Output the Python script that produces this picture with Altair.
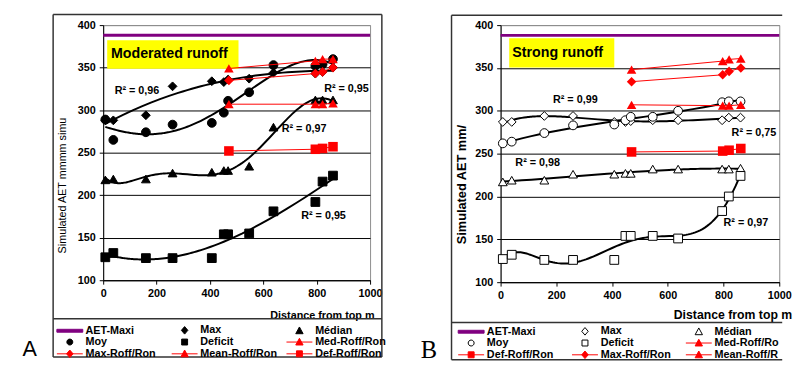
import altair as alt
import pandas as pd

FONT = "Liberation Sans"
PURPLE = "#800080"
RED = "#FF0000"

x_domain = [0, 1000]
x_ticks = [0, 200, 400, 600, 800, 1000]
y_domain = [100, 400]
y_ticks = [100, 150, 200, 250, 300, 350, 400]
aet_maxi = 388

# ---------------- Panel A : Moderated runoff ----------------
a_x = [8, 38, 160, 260, 407, 452, 468, 547, 638, 795, 822, 861]
a_max = [288, 288, 294, 328, 334, 333, 336, 337, 344, 343, 345, 350]
a_moy = [289, 265, 274, 283, 285, 297, 311, 321, 353, 352, 354, 360]
a_med = [218, 219, 219, 226, 227, 229, 229, 234, 280, 312, 312, 312]
a_def = [127, 132, 126, 126, 126, 154, 154, 155, 181, 192, 216, 223]
a_roff_x = [471, 795, 822, 861]
a_mean_roff = [349, 358, 360, 360]
a_max_roff = [335, 343, 345, 350]
a_med_roff = [307, 307, 307, 308]
a_def_roff = [252, 254, 255, 257]
a_r2_text = ["R² = 0,96", "R² = 0,95", "R² = 0,97", "R² = 0,95"]
a_r2_x = [43, 828, 669, 742]
a_r2_y = [323, 325, 278, 175]

# ---------------- Panel B : Strong runoff ----------------
b_x = [8, 40, 157, 260, 408, 448, 467, 546, 637, 795, 819, 861]
b_max = [287, 287, 294, 294, 287, 287, 288, 289, 289, 289, 292, 292]
b_moy = [262, 264, 274, 283, 284, 289, 293, 293, 300, 310, 311, 311]
b_med = [217, 219, 219, 226, 226, 227, 227, 232, 232, 232, 232, 233]
b_def = [127, 132, 126, 126, 126, 154, 154, 154, 151, 183, 200, 224]
b_roff_x = [470, 797, 820, 862]
b_mean_roff = [348, 358, 360, 361]
b_max_roff = [334, 342, 346, 350]
b_med_roff = [307, 306, 306, 307]
b_def_roff = [252, 253, 254, 256]
b_r2_text = ["R² = 0,99", "R² = 0,75", "R² = 0,98", "R² = 0,97"]
b_r2_x = [188, 829, 53, 800]
b_r2_y = [312, 274, 239.5, 169]

# legend symbol paths (line + marker)
P_LINE = "M-2.4,0H2.4"
P_TRI = "M0,-0.7L0.68,0.55L-0.68,0.55Z"
P_DIA = "M0,-0.7L0.6,0L0,0.7L-0.6,0Z"
P_SQ = "M-0.55,-0.55H0.55V0.55H-0.55Z"
P_CIR = "M-0.55,0A0.55,0.55,0,1,0,0.55,0A0.55,0.55,0,1,0,-0.55,0Z"
P_BAR = "M-2.4,-0.27H2.4V0.27H-2.4Z"


def long_df(xs, cols):
    rows = []
    for name, vals in cols:
        for x, y in zip(xs, vals):
            rows.append({"series": name, "x": x, "y": y})
    return pd.DataFrame(rows)


def build(P):
    W, H = P["W"], P["H"]
    X = alt.X("x:Q", scale=alt.Scale(domain=x_domain, nice=False, zero=False),
              axis=alt.Axis(values=x_ticks, format="d", grid=False, title="Distance from top m",
                            titleFont=FONT, titleFontSize=P["xt_fs"], titleFontWeight="bold",
                            titleColor="black", titleAlign=P["xt_align"], titleX=P["xt_x"],
                            titleY=P["xt_y"], titleBaseline="middle",
                            labelFont=FONT, labelFontSize=11, labelFontWeight="bold",
                            labelColor="black", labelPadding=4, tickSize=4, tickColor="black",
                            domainColor="black", labelFlush=False))
    Y = alt.Y("y:Q", scale=alt.Scale(domain=y_domain, nice=False, zero=False),
              axis=alt.Axis(values=y_ticks, format="d", grid=True,
                            gridColor={"condition": {"test": "datum.value >= 400", "value": "#8c8c8c"},
                                       "value": "black"},
                            title=P["yt"], titleFont=FONT, titleFontSize=P["yt_fs"],
                            titleFontWeight=P["yt_fw"], titleColor="black", titleAngle=270,
                            titleAlign="center", titleBaseline="middle",
                            titleX=P["yt_x"], titleY=P["yt_y"],
                            labelFont=FONT, labelFontSize=11, labelFontWeight="bold",
                            labelColor="black", labelPadding=4, tickSize=4, tickColor="black",
                            domainColor="black"))

    pts = long_df(P["x"], P["black"])
    roff = long_df(P["roff_x"], P["red"])
    layers = []

    # yellow title box
    box = pd.DataFrame([{"x": P["box"][0], "x2": P["box"][1], "y": P["box"][2], "y2": P["box"][3]}])
    layers.append(alt.Chart(box).mark_rect(color="#FFFF00").encode(
        x=X, x2="x2:Q", y=Y, y2="y2:Q"))
    btxt = pd.DataFrame([{"x": P["box_tx"], "y": (P["box"][2] + P["box"][3]) / 2, "t": P["label"]}])
    layers.append(alt.Chart(btxt).mark_text(align="left", baseline="middle", font=FONT,
                                            fontSize=14.5, fontWeight="bold", color="black").encode(
        x=X, y=Y, text="t:N"))

    # AET-Maxi
    aet = pd.DataFrame({"x": x_domain, "y": [aet_maxi, aet_maxi]})
    layers.append(alt.Chart(aet).mark_line(color=PURPLE, strokeWidth=3).encode(x=X, y=Y))

    # trend lines
    for name, order in P["orders"]:
        layers.append(alt.Chart(pts).transform_filter(alt.datum.series == name)
                      .transform_regression("x", "y", method="poly", order=order)
                      .mark_line(color="black", strokeWidth=2).encode(x=X, y=Y))

    # black series points
    for name, shape in P["shapes"]:
        layers.append(alt.Chart(pts).transform_filter(alt.datum.series == name)
                      .mark_point(shape=shape, size=P["msize"], filled=P["filled"],
                                  fill="black" if P["filled"] else "white",
                                  stroke="black", strokeWidth=1, opacity=1)
                      .encode(x=X, y=Y))

    # red runoff series
    for name, shape in P["red_shapes"]:
        base = alt.Chart(roff).transform_filter(alt.datum.series == name)
        layers.append(base.mark_line(color=RED, strokeWidth=1).encode(x=X, y=Y))
        layers.append(base.mark_point(shape=shape, size=95, filled=True, color=RED, opacity=1)
                      .encode(x=X, y=Y))

    # R2 annotations
    r2 = pd.DataFrame({"x": P["r2_x"], "y": P["r2_y"], "t": P["r2_text"]})
    layers.append(alt.Chart(r2).mark_text(align="left", baseline="middle", font=FONT,
                                          fontSize=11, fontWeight="bold", color="black").encode(
        x=X, y=Y, text="t:N"))

    # frame and legend separator (decoration)
    one = pd.DataFrame([{"k": 0}])
    fl, fr, ft, fb, sep = P["frame"]
    for (x1, x2, y1, y2) in [(fl, fl, ft, fb), (fl, fr, ft, ft), (fl, fr, fb, fb), (fl, fr, sep, sep)] + P["extra_edges"]:
        layers.append(alt.Chart(one).mark_rule(color="#333333", strokeWidth=1.5).encode(
            x=alt.value(x1), x2=alt.value(x2), y=alt.value(y1), y2=alt.value(y2)))
    layers.append(alt.Chart(one).mark_text(text=P["letter"], font=P["letter_font"],
                                           fontSize=P["letter_fs"], align="center",
                                           baseline="alphabetic", color="black").encode(
        x=alt.value(P["letter_xy"][0]), y=alt.value(P["letter_xy"][1])))

    # legend driver
    names = [e[0] for e in P["legend"]]
    leg_kw = dict(title=None, orient="none", legendX=P["leg_xy"][0], legendY=P["leg_xy"][1],
                  columns=3, direction="horizontal", symbolSize=121, symbolStrokeWidth=1,
                  symbolOpacity=1, labelFont=FONT, labelFontSize=P["leg_fs"],
                  labelFontWeight="bold", labelColor="black", labelOffset=10,
                  columnPadding=P["colpad"], rowPadding=P["rowpad"], gridAlign="all",
                  padding=0, labelLimit=300)
    if P.get("leg_expr"):
        leg_kw["labelExpr"] = P["leg_expr"]
    leg = alt.Legend(**leg_kw)
    legdf = pd.DataFrame({"series": names})
    layers.append(alt.Chart(legdf).mark_point(opacity=0).encode(
        shape=alt.Shape("series:N", scale=alt.Scale(domain=names, range=[e[1] for e in P["legend"]]), legend=leg),
        fill=alt.Fill("series:N", scale=alt.Scale(domain=names, range=[e[2] for e in P["legend"]]), legend=leg),
        stroke=alt.Stroke("series:N", scale=alt.Scale(domain=names, range=[e[3] for e in P["legend"]]), legend=leg),
    ))

    return alt.layer(*layers).properties(width=W, height=H)


A = dict(
    W=272, H=260, x=a_x,
    black=[("Max", a_max), ("Moy", a_moy), ("Médian", a_med), ("Deficit", a_def)],
    roff_x=a_roff_x,
    red=[("Mean-Roff/Ron", a_mean_roff), ("Max-Roff/Ron", a_max_roff),
         ("Med-Roff/Ron", a_med_roff), ("Def-Roff/Ron", a_def_roff)],
    orders=[("Max", 3), ("Moy", 4), ("Médian", 6), ("Deficit", 3)],
    shapes=[("Max", "diamond"), ("Moy", "circle"), ("Médian", "triangle-up"), ("Deficit", "square")],
    red_shapes=[("Mean-Roff/Ron", "triangle-up"), ("Max-Roff/Ron", "diamond"),
                ("Med-Roff/Ron", "triangle-up"), ("Def-Roff/Ron", "square")],
    msize=80, filled=True,
    box=(15, 507, 382.3, 348.8), box_tx=29, label="Moderated runoff",
    r2_x=a_r2_x, r2_y=a_r2_y, r2_text=a_r2_text,
    xt_fs=11, xt_align="right", xt_x=276, xt_y=36,
    yt="Simulated AET mmmm simu", yt_fs=11, yt_fw="normal", yt_x=-41, yt_y=163,
    frame=(-51, 284, -10.7, 338.3, 299.3), extra_edges=[(284, 284, -10.7, 338.3)],
    letter="A", letter_font="Liberation Sans", letter_fs=22, letter_xy=(-75, 337),
    legend=[("AET-Maxi", P_BAR, PURPLE, PURPLE), ("Max", P_DIA, "black", "black"),
            ("Médian", P_TRI, "black", "black"), ("Moy", P_CIR, "black", "black"),
            ("Deficit", P_SQ, "black", "black"), ("Med-Roff/Ron", P_LINE + P_TRI, RED, RED),
            ("Max-Roff/Ron", P_LINE + P_DIA, RED, RED), ("Mean-Roff/Ron", P_LINE + P_TRI, RED, RED),
            ("Def-Roff/Ron", P_LINE + P_SQ, RED, RED)],
    leg_xy=(-40, 305), leg_fs=11, colpad=6, rowpad=-0.5,
)

B = dict(
    W=284, H=262, x=b_x,
    black=[("Max", b_max), ("Moy", b_moy), ("Médian", b_med), ("Deficit", b_def)],
    roff_x=b_roff_x,
    red=[("Mean-Roff/Ron", b_mean_roff), ("Max-Roff/Ron", b_max_roff),
         ("Med-Roff/Ron", b_med_roff), ("Def-Roff/Ron", b_def_roff)],
    orders=[("Max", 5), ("Moy", 3), ("Médian", 3), ("Deficit", 6)],
    shapes=[("Max", "diamond"), ("Moy", "circle"), ("Médian", "triangle-up"), ("Deficit", "square")],
    red_shapes=[("Mean-Roff/Ron", "triangle-up"), ("Max-Roff/Ron", "diamond"),
                ("Med-Roff/Ron", "triangle-up"), ("Def-Roff/Ron", "square")],
    msize=80, filled=False,
    box=(31, 408, 384.8, 350.4), box_tx=42, label="Strong runoff",
    r2_x=b_r2_x, r2_y=b_r2_y, r2_text=b_r2_text,
    xt_fs=12.5, xt_align="left", xt_x=176, xt_y=33,
    yt="Simulated  AET mm/", yt_fs=13, yt_fw="bold", yt_x=-40, yt_y=162,
    frame=(-50, 287, -10, 341, 303), extra_edges=[],
    letter="B", letter_font="Liberation Serif", letter_fs=25, letter_xy=(-73, 339),
    legend=[("AET-Maxi", P_BAR, PURPLE, PURPLE), ("Max", P_DIA, "white", "black"),
            ("Médian", P_TRI, "white", "black"), ("Moy", P_CIR, "white", "black"),
            ("Deficit", P_SQ, "white", "black"), ("Med-Roff/Ron", P_LINE + P_TRI, RED, RED),
            ("Def-Roff/Ron", P_LINE + P_SQ, RED, RED), ("Max-Roff/Ron", P_LINE + P_DIA, RED, RED),
            ("Mean-Roff/Ron", P_LINE + P_TRI, RED, RED)],
    leg_xy=(-36, 306), leg_fs=11, colpad=12, rowpad=-2.5,
    # the right edge of the original figure is cropped: show only the visible part
    leg_expr="indexof(['Med-Roff/Ron','Mean-Roff/Ron'], datum.label) >= 0 ? slice(datum.label, 0, 11) : datum.label",
)

chart = alt.hconcat(build(A), build(B), spacing=33).resolve_scale(
    shape="independent", fill="independent", stroke="independent"
).resolve_legend(shape="independent", fill="independent", stroke="independent").configure(
    padding={"left": 14, "top": 2, "right": 0, "bottom": 0}
).configure_view(stroke="#8c8c8c", strokeWidth=1)

chart.save("out.html", embed_options={"renderer": "svg", "actions": False})
